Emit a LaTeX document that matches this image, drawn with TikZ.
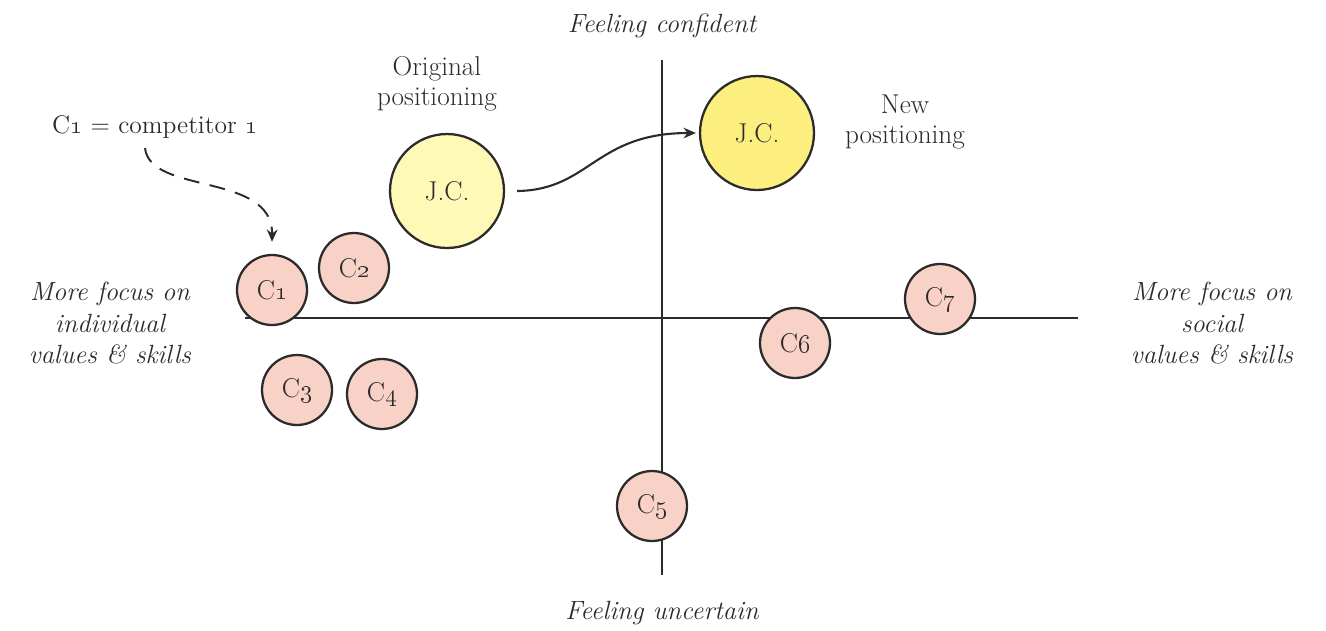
\documentclass[tikz,border=0pt]{standalone}
\usetikzlibrary{arrows.meta}
\definecolor{ink}{HTML}{2B2B2B}
\definecolor{rivalfill}{HTML}{F8D2C6}
\definecolor{oldfill}{HTML}{FFF9B8}
\definecolor{newfill}{HTML}{FCEF80}
\begin{document}
\begin{tikzpicture}[x=0.02cm,y=-0.02cm,
  axisline/.style={draw=ink, line width=1.3pt},
  bubble/.style={circle, draw=ink, line width=1.3pt, inner sep=0pt, text=ink,
    font=\fontsize{15.5}{18}\selectfont},
  rival/.style={bubble, fill=rivalfill, minimum size=1.4cm},
  jcbubble/.style={bubble, minimum size=2.28cm},
  tag/.style={align=center, text=ink, font=\fontsize{15.5}{17}\selectfont},
  legendtag/.style={text=ink, font=\fontsize{14.5}{17}\selectfont},
  axistag/.style={align=center, text=ink, font=\fontsize{15}{18}\selectfont\itshape},
  move/.style={draw=ink, line width=1.2pt, -{Stealth[length=7pt,width=6pt]}},
  pointer/.style={draw=ink, line width=1.1pt, dash pattern=on 9pt off 6pt,
    -{Stealth[length=7pt,width=6pt]}},
]
\useasboundingbox (0,0) rectangle (1326,630);

% axes
\coordinate (xl) at (245,318);
\coordinate (xr) at (1078,318);
\coordinate (yt) at (662,60);
\coordinate (yb) at (662,575);
\draw[axisline] (xl) -- (xr);
\draw[axisline] (yt) -- (yb);

% axis captions
\node[axistag] (top) at (662,26) {Feeling confident};
\node[axistag] (bottom) at (662,613) {Feeling uncertain};
\node[axistag] (left) at (110,323) {More focus on\\individual\\values \& skills};
\node[axistag] (right) at (1212,323) {More focus on\\social\\values \& skills};

% positioning bubbles
\node[jcbubble, fill=oldfill] (jcold) at (447,191) {J.C.};
\node[jcbubble, fill=newfill] (jcnew) at (757,133) {J.C.};
\node[tag] (oldtag) at (437,84) {Original\\positioning};
\node[tag] (newtag) at (905,122) {New\\positioning};
\draw[move] ([xshift=0.24cm]jcold.east) .. controls (590,190) and (595,133) .. ([xshift=-0.06cm]jcnew.west);

% competitors
\node[rival] (c1) at (272,290) {C\oldstylenums{1}};
\node[rival] (c2) at (354,268) {C\oldstylenums{2}};
\node[rival] (c3) at (297,390) {C\oldstylenums{3}};
\node[rival] (c4) at (382,394) {C\oldstylenums{4}};
\node[rival] (c5) at (652,506) {C\oldstylenums{5}};
\node[rival] (c6) at (795,343) {C\oldstylenums{6}};
\node[rival] (c7) at (940,299) {C\oldstylenums{7}};

% legend with its dashed pointer to C1
\node[legendtag, anchor=west] (legend) at (46,127) {C\oldstylenums{1} = competitor \oldstylenums{1}};
\coordinate (legfoot) at (145,148);
\coordinate (c1tip) at ([yshift=0.24cm]c1.north);
\draw[pointer] (legfoot) .. controls (150,195) and (273,172) .. (c1tip);
\end{tikzpicture}
\end{document}
